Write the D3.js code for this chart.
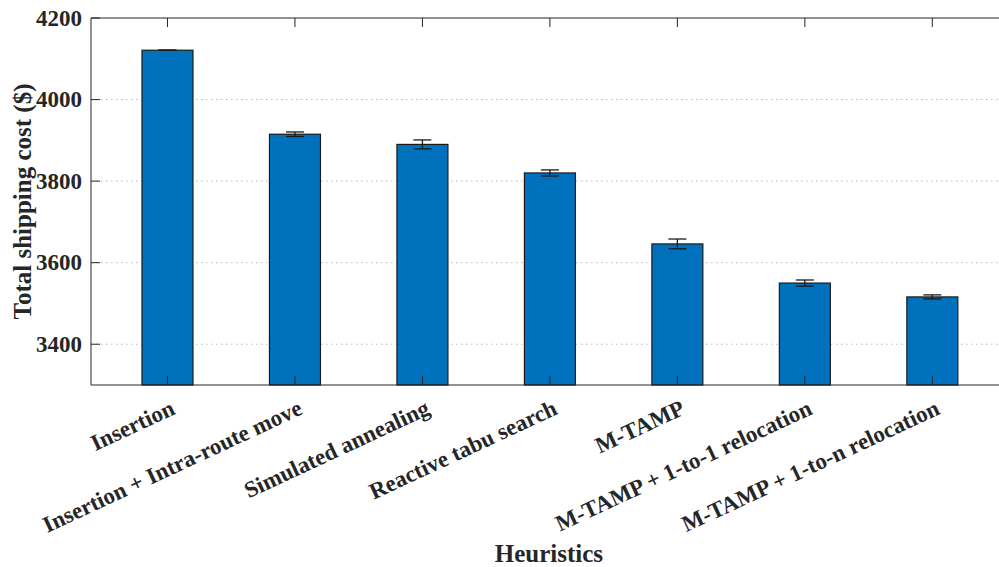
<!DOCTYPE html>
<html>
<head>
<meta charset="utf-8">
<script src="https://cdn.jsdelivr.net/npm/d3@7"></script>
<style>
  html, body { margin: 0; padding: 0; background: #fff; }
  svg { display: block; }
  text { font-family: "Liberation Serif", "Times New Roman", serif; font-weight: bold; fill: #262626; }
</style>
</head>
<body>
<svg id="chart" width="999" height="567"></svg>
<script>
const categories = [
  "Insertion",
  "Insertion + Intra-route move",
  "Simulated annealing",
  "Reactive tabu search",
  "M-TAMP",
  "M-TAMP + 1-to-1 relocation",
  "M-TAMP + 1-to-n relocation"
];
const costValues = [4121, 3915, 3890, 3820, 3646, 3550, 3516];
const costErrors = [0.5, 5.5, 11, 7.5, 12, 7.5, 5];
const yTicks = [3400, 3600, 3800, 4000, 4200];
const yDomain = [3300, 4200];
const xLabel = "Heuristics";
const yLabel = "Total shipping cost ($)";

(function () {
const svg = d3.select("#chart");
const pL = 91, pT = 18, pB = 385, pR = 1008.8;
const axisColor = "#262626";

const x = d3.scaleBand().domain(categories).range([pL, pR])
  .paddingInner(0.6).paddingOuter(0.4);
const y = d3.scaleLinear().domain(yDomain).range([pB, pT]);

// grid
svg.append("g").selectAll("line").data(yTicks.filter(t => t < 4200)).join("line")
  .attr("x1", pL).attr("x2", pR)
  .attr("y1", d => y(d)).attr("y2", d => y(d))
  .attr("stroke", "#b8b8b8").attr("stroke-width", 1)
  .attr("stroke-dasharray", "1.5,3.5");

// bars
svg.append("g").selectAll("rect").data(costValues).join("rect")
  .attr("x", (d, i) => x(categories[i]))
  .attr("width", x.bandwidth())
  .attr("y", d => y(d))
  .attr("height", d => pB - y(d))
  .attr("fill", "#0072BD")
  .attr("stroke", "#1a1a1a").attr("stroke-width", 1.2);

// error bars
const cap = 9;
const eg = svg.append("g").attr("stroke", "#1a1a1a").attr("stroke-width", 1.3);
costValues.forEach((v, i) => {
  const cx = x(categories[i]) + x.bandwidth() / 2;
  const e = costErrors[i];
  eg.append("line").attr("x1", cx).attr("x2", cx).attr("y1", y(v + e)).attr("y2", y(v - e));
  eg.append("line").attr("x1", cx - cap).attr("x2", cx + cap).attr("y1", y(v + e)).attr("y2", y(v + e));
  eg.append("line").attr("x1", cx - cap).attr("x2", cx + cap).attr("y1", y(v - e)).attr("y2", y(v - e));
});

// axes box
const ax = svg.append("g").attr("stroke", axisColor).attr("stroke-width", 1).attr("fill", "none");
ax.append("line").attr("x1", pL).attr("x2", pR).attr("y1", pB).attr("y2", pB);
ax.append("line").attr("x1", pL).attr("x2", pR).attr("y1", pT).attr("y2", pT);
ax.append("line").attr("x1", pL).attr("x2", pL).attr("y1", pT).attr("y2", pB);

// x ticks (inside, top and bottom)
const tickLen = 9;
categories.forEach(c => {
  const cx = x(c) + x.bandwidth() / 2;
  ax.append("line").attr("x1", cx).attr("x2", cx).attr("y1", pB).attr("y2", pB - tickLen);
  ax.append("line").attr("x1", cx).attr("x2", cx).attr("y1", pT).attr("y2", pT + tickLen);
});
// y ticks
yTicks.forEach(t => {
  ax.append("line").attr("x1", pL).attr("x2", pL + tickLen).attr("y1", y(t)).attr("y2", y(t));
});

// y tick labels
svg.append("g").selectAll("text").data(yTicks).join("text")
  .attr("x", pL - 9).attr("y", d => y(d))
  .attr("text-anchor", "end").attr("dominant-baseline", "central")
  .attr("font-size", 23).text(d => d);

// x tick labels
svg.append("g").selectAll("text").data(categories).join("text")
  .attr("transform", d => `translate(${x(d) + x.bandwidth() / 2 + 2},${pB + 14}) rotate(-25)`)
  .attr("text-anchor", "end").attr("dominant-baseline", "hanging")
  .attr("font-size", 23).text(d => d);

// axis labels
svg.append("text").attr("x", (pL + pR) / 2 - 1).attr("y", 562)
  .attr("text-anchor", "middle").attr("font-size", 25).text(xLabel);
svg.append("text").attr("transform", `translate(31,${(pT + pB) / 2}) rotate(-90)`)
  .attr("text-anchor", "middle").attr("font-size", 25).text(yLabel);
})();
</script>
</body>
</html>
